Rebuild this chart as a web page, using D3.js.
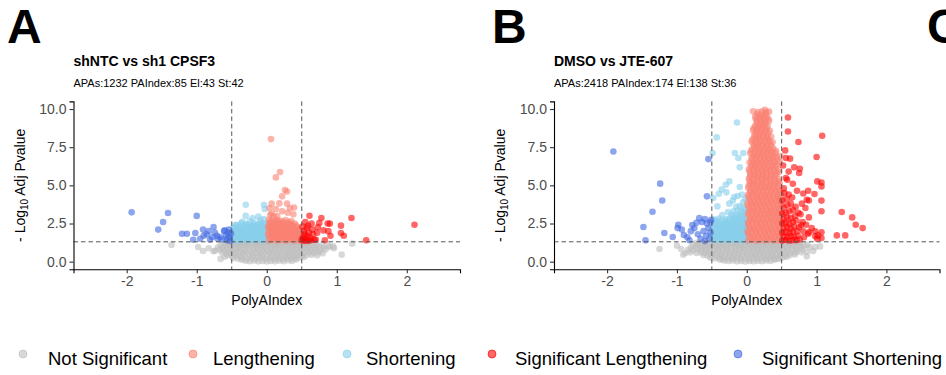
<!DOCTYPE html>
<html><head><meta charset="utf-8">
<script src="https://cdn.jsdelivr.net/npm/d3@7"></script>
<style>body{margin:0;background:#fff}svg{display:block;font-family:"Liberation Sans",Arial,sans-serif}</style>
</head><body><svg id="c" width="946" height="375"></svg>
<script>
// ---------- DATA ----------
const categories = ["Not Significant","Lengthening","Shortening","Significant Lengthening","Significant Shortening"];
const catColors = ["#BEBEBE","#FA8072","#87CEEB","#FF0000","#4169E1"];
const xTicks = [-2,-1,0,1,2];
const yTicks = [0,2.5,5,7.5,10];
const yTickLabels = ["0.0","2.5","5.0","7.5","10.0"];
const panelLabels = ["A","B","C"];
const titles = ["shNTC vs sh1 CPSF3","DMSO vs JTE-607"];
const subtitles = ["APAs:1232 PAIndex:85 El:43 St:42","APAs:2418 PAIndex:174 El:138 St:36"];
const pThreshold = 1.301, piThreshold = 0.5;

// Panel A points [PolyAIndex, -log10 adj p]
const A_notSig = [[-0.36,0.12],[-0.3,0.06],[-0.24,0.03],[-0.18,0.08],[-0.12,0.02],[-0.06,0.05],[0.0,0.01],[0.06,0.04],[0.12,0.02],[0.18,0.07],[0.24,0.03],[0.3,0.09],[0.36,0.05],[0.42,0.14],
[-0.48,0.25],[-0.42,0.2],[-0.36,0.24],[-0.29,0.18],[-0.22,0.22],[-0.15,0.2],[-0.08,0.24],[-0.02,0.19],[0.05,0.22],[0.11,0.18],[0.17,0.23],[0.23,0.2],[0.29,0.25],[0.35,0.2],[0.41,0.23],[0.47,0.27],[0.53,0.3],
[-0.56,0.42],[-0.5,0.38],[-0.44,0.41],[-0.38,0.37],[-0.32,0.43],[-0.25,0.39],[-0.19,0.41],[-0.12,0.37],[-0.06,0.42],[0.01,0.39],[0.07,0.41],[0.14,0.37],[0.2,0.42],[0.26,0.38],[0.32,0.41],[0.38,0.39],[0.44,0.43],[0.5,0.38],[0.57,0.42],[0.64,0.45],
[-0.64,0.6],[-0.58,0.55],[-0.52,0.6],[-0.46,0.56],[-0.4,0.6],[-0.34,0.57],[-0.28,0.6],[-0.21,0.55],[-0.15,0.59],[-0.09,0.57],[-0.03,0.6],[0.04,0.56],[0.1,0.59],[0.16,0.55],[0.22,0.6],[0.29,0.57],[0.35,0.6],[0.41,0.56],[0.47,0.59],[0.53,0.57],[0.6,0.61],[0.67,0.56],[0.74,0.6],
[-0.74,0.72],[-0.67,0.78],[-0.61,0.74],[-0.55,0.78],[-0.49,0.75],[-0.43,0.79],[-0.37,0.74],[-0.31,0.77],[-0.24,0.73],[-0.18,0.78],[-0.12,0.75],[-0.05,0.77],[0.01,0.74],[0.07,0.78],[0.13,0.75],[0.19,0.79],[0.26,0.74],[0.32,0.77],[0.38,0.73],[0.44,0.78],[0.5,0.75],[0.57,0.79],[0.63,0.74],[0.7,0.78],[0.77,0.73],[0.84,0.8],
[-0.7,0.92],[-0.63,0.96],[-0.57,0.91],[-0.51,0.95],[-0.45,0.92],[-0.39,0.96],[-0.33,0.93],[-0.27,0.95],[-0.2,0.91],[-0.14,0.96],[-0.08,0.93],[-0.02,0.95],[0.05,0.92],[0.11,0.96],[0.17,0.93],[0.23,0.95],[0.3,0.91],[0.36,0.96],[0.42,0.92],[0.48,0.95],[0.54,0.93],[0.61,0.96],[0.68,0.92],[0.75,0.96],[0.82,0.93],[0.9,0.97],
[-0.66,1.08],[-0.6,1.12],[-0.54,1.09],[-0.48,1.12],[-0.42,1.08],[-0.36,1.11],[-0.3,1.09],[-0.24,1.12],[-0.17,1.08],[-0.11,1.11],[-0.05,1.09],[0.02,1.12],[0.08,1.08],[0.14,1.11],[0.2,1.09],[0.27,1.12],[0.33,1.08],[0.39,1.11],[0.45,1.09],[0.51,1.12],[0.57,1.08],[0.64,1.11],[0.71,1.07],[0.79,1.1],[0.88,1.05],[0.95,1.0],
[-0.58,1.24],[-0.51,1.22],[-0.45,1.26],[-0.39,1.23],[-0.33,1.25],[-0.27,1.22],[-0.2,1.26],[-0.14,1.23],[-0.08,1.25],[-0.01,1.22],[0.05,1.26],[0.11,1.23],[0.17,1.25],[0.24,1.22],[0.3,1.26],[0.36,1.23],[0.42,1.25],[0.48,1.22],[0.55,1.26],[0.62,1.23],[0.69,1.25],
[-1.36,1.1],[-0.98,0.96],[-0.91,0.7],[-0.83,0.88],[-0.76,0.68],[-0.66,0.18],[-0.6,0.32],[1.07,0.46],[1.22,1.18],[0.96,0.88],[0.72,0.42],[0.8,0.55]];
const A_short = [[-0.48,1.4],[-0.42,1.37],[-0.36,1.41],[-0.3,1.38],[-0.24,1.42],[-0.18,1.37],[-0.12,1.4],[-0.06,1.38],[-0.02,1.42],
[-0.46,1.6],[-0.4,1.62],[-0.34,1.58],[-0.28,1.62],[-0.22,1.59],[-0.16,1.63],[-0.1,1.6],[-0.04,1.62],
[-0.49,1.8],[-0.43,1.84],[-0.37,1.8],[-0.31,1.85],[-0.25,1.81],[-0.19,1.84],[-0.13,1.8],[-0.07,1.85],[-0.02,1.82],
[-0.45,2.04],[-0.39,2.07],[-0.33,2.03],[-0.27,2.08],[-0.21,2.04],[-0.15,2.06],[-0.09,2.03],[-0.04,2.08],
[-0.47,2.22],[-0.4,2.3],[-0.34,2.25],[-0.28,2.3],[-0.22,2.26],[-0.16,2.31],[-0.1,2.27],[-0.05,2.3],[-0.01,2.25],
[-0.37,2.5],[-0.3,2.47],[-0.19,2.52],[-0.13,2.48],[-0.07,2.55],[-0.03,2.5],
[-0.24,2.65],[-0.09,2.72],[-0.04,2.8],[-0.3,3.0],[-0.2,2.85],[-0.35,2.62],[-0.3,3.73],[-0.04,3.73],[-0.03,3.45],[-0.12,2.95],[-0.45,2.4]];
const A_shortDense = [[-0.45,1.5],[-0.39,1.52],[-0.33,1.48],[-0.27,1.51],[-0.21,1.49],[-0.15,1.53],[-0.09,1.48],[-0.03,1.51],
[-0.48,1.72],[-0.42,1.7],[-0.36,1.74],[-0.3,1.71],[-0.24,1.73],[-0.18,1.69],[-0.12,1.73],[-0.06,1.7],
[-0.46,1.95],[-0.4,1.93],[-0.34,1.96],[-0.28,1.92],[-0.22,1.95],[-0.16,1.94],[-0.1,1.97],[-0.04,1.92],
[-0.48,2.15],[-0.42,2.17],[-0.36,2.14],[-0.3,2.18],[-0.24,2.15],[-0.18,2.19],[-0.12,2.16],[-0.06,2.18],
[-0.43,2.4],[-0.31,2.38],[-0.25,2.42],[-0.19,2.39],[-0.13,2.41],[-0.08,2.38],[-0.02,2.42]];
const A_length = [[0.03,1.39],[0.09,1.42],[0.15,1.38],[0.21,1.41],[0.27,1.37],[0.33,1.42],[0.39,1.38],[0.45,1.41],[0.49,1.36],
[0.05,1.6],[0.11,1.63],[0.17,1.58],[0.23,1.62],[0.29,1.59],[0.35,1.63],[0.41,1.6],[0.47,1.62],
[0.02,1.82],[0.08,1.85],[0.14,1.8],[0.2,1.84],[0.26,1.81],[0.32,1.85],[0.38,1.8],[0.44,1.84],[0.49,1.8],
[0.04,2.05],[0.1,2.08],[0.16,2.03],[0.22,2.07],[0.28,2.04],[0.34,2.08],[0.4,2.03],[0.46,2.06],
[0.02,2.3],[0.07,2.26],[0.13,2.31],[0.19,2.27],[0.25,2.3],[0.31,2.26],[0.37,2.3],[0.43,2.25],
[0.04,2.52],[0.1,2.48],[0.16,2.53],[0.22,2.49],[0.28,2.52],[0.34,2.47],[0.4,2.5],
[0.03,2.75],[0.08,2.7],[0.14,2.76],[0.2,2.68],[0.27,2.72],[0.35,2.66],
[0.05,3.05],[0.1,2.95],[0.07,3.15],[0.15,3.0],[0.3,3.2],[0.38,3.1],[0.22,3.3],
[0.06,8.03],[0.19,5.87],[0.13,5.52],[0.26,4.7],[0.29,4.6],[0.22,4.28],[0.07,3.8],[0.18,3.82],[0.29,3.8],[0.39,3.55],[0.33,3.5],[0.04,3.5],[0.13,3.45]];
const A_lengthDense = [[0.06,1.5],[0.12,1.52],[0.18,1.48],[0.24,1.51],[0.3,1.49],[0.36,1.53],[0.42,1.48],[0.48,1.51],
[0.03,1.72],[0.09,1.7],[0.15,1.74],[0.21,1.71],[0.27,1.73],[0.33,1.69],[0.39,1.73],[0.45,1.7],
[0.06,1.95],[0.12,1.93],[0.18,1.96],[0.24,1.92],[0.3,1.95],[0.36,1.94],[0.42,1.97],[0.48,1.92],
[0.03,2.17],[0.09,2.15],[0.15,2.19],[0.21,2.16],[0.27,2.18],[0.33,2.14],[0.39,2.18],[0.45,2.15],
[0.06,2.4],[0.12,2.38],[0.18,2.41],[0.24,2.37],[0.3,2.4],[0.36,2.39],[0.42,2.36],
[0.05,2.62],[0.11,2.6],[0.17,2.63],[0.24,2.6],[0.31,2.58]];
const A_sigLength = [[0.61,3.01],[0.78,2.86],[1.21,2.86],[2.11,2.42],[0.9,2.49],[1.06,2.36],[0.75,2.53],[0.64,2.49],[0.81,2.05],[0.91,1.7],[1.06,1.88],[1.1,1.7],[1.42,1.4],[0.7,1.44],[0.83,1.4],
[0.52,1.38],[0.55,1.5],[0.58,1.7],[0.53,2.0],[0.6,1.9],[0.57,2.2],[0.52,1.6],[0.62,1.55],[0.66,1.8],[0.68,1.45],[0.56,1.35],[0.65,2.1],[0.72,1.9],[0.6,1.38],[0.54,1.8],[0.51,2.3],[0.55,2.6],[0.59,2.35],[0.63,1.4],[0.5,1.45],[0.87,2.5],[0.88,2.0],[0.73,2.25]];
const A_sigShort = [[-1.93,3.23],[-1.41,3.19],[-1.48,2.6],[-1.55,2.1],[-1.0,3.0],[-1.21,1.83],[-1.14,1.83],[-1.02,1.88],[-1.05,1.44],[-0.91,2.1],[-0.83,2.0],[-0.76,2.27],[-0.86,1.8],[-0.71,1.7],[-0.66,1.6],[-0.55,1.9],[-0.53,1.6],[-0.61,2.0],[-0.95,1.5],[-0.81,1.45],[-0.64,1.45],[-0.57,1.4],[-0.74,1.9],[-0.58,1.75],[-0.6,2.05],[-0.52,1.35],[-0.7,1.5],[-0.9,1.7],[-0.78,1.6],[-0.54,2.1],[-0.51,1.85],[-0.56,1.55]];

// Panel B points
const B_notSig = [[-0.38,0.12],[-0.32,0.07],[-0.26,0.04],[-0.2,0.08],[-0.14,0.02],[-0.08,0.05],[-0.02,0.01],[0.04,0.04],[0.1,0.02],[0.16,0.06],[0.22,0.03],[0.28,0.08],[0.34,0.05],[0.4,0.12],[0.46,0.18],
[-0.52,0.26],[-0.46,0.21],[-0.4,0.24],[-0.34,0.19],[-0.27,0.22],[-0.21,0.2],[-0.15,0.24],[-0.09,0.19],[-0.03,0.22],[0.03,0.18],[0.09,0.23],[0.15,0.2],[0.21,0.24],[0.27,0.19],[0.33,0.23],[0.39,0.2],[0.45,0.24],[0.51,0.28],[0.57,0.32],
[-0.62,0.44],[-0.56,0.39],[-0.5,0.42],[-0.44,0.37],[-0.38,0.42],[-0.32,0.38],[-0.25,0.41],[-0.19,0.37],[-0.13,0.42],[-0.07,0.39],[0.0,0.41],[0.06,0.37],[0.12,0.42],[0.18,0.38],[0.24,0.41],[0.3,0.37],[0.36,0.42],[0.42,0.39],[0.48,0.41],[0.55,0.38],[0.62,0.43],[0.69,0.47],
[-0.81,0.6],[-0.72,0.57],[-0.66,0.6],[-0.6,0.56],[-0.54,0.6],[-0.48,0.56],[-0.42,0.59],[-0.36,0.55],[-0.3,0.6],[-0.24,0.57],[-0.18,0.59],[-0.11,0.55],[-0.05,0.6],[0.01,0.56],[0.07,0.59],[0.13,0.55],[0.19,0.6],[0.25,0.57],[0.31,0.59],[0.37,0.55],[0.43,0.6],[0.49,0.57],[0.55,0.6],[0.62,0.56],[0.7,0.6],[0.78,0.62],[0.86,0.63],
[-0.88,0.57],[-0.84,0.78],[-0.77,0.74],[-0.7,0.79],[-0.64,0.74],[-0.58,0.77],[-0.52,0.73],[-0.46,0.78],[-0.4,0.75],[-0.34,0.79],[-0.28,0.74],[-0.21,0.77],[-0.15,0.73],[-0.09,0.78],[-0.03,0.75],[0.04,0.79],[0.1,0.74],[0.16,0.77],[0.22,0.73],[0.28,0.78],[0.34,0.75],[0.4,0.79],[0.46,0.74],[0.52,0.77],[0.58,0.73],[0.65,0.78],[0.72,0.74],[0.8,0.79],
[-0.94,0.83],[-0.8,0.93],[-0.73,0.96],[-0.66,0.91],[-0.6,0.95],[-0.54,0.92],[-0.48,0.96],[-0.42,0.93],[-0.36,0.95],[-0.29,0.91],[-0.23,0.96],[-0.17,0.93],[-0.11,0.95],[-0.05,0.91],[0.02,0.96],[0.08,0.93],[0.14,0.95],[0.2,0.91],[0.26,0.96],[0.32,0.93],[0.38,0.95],[0.44,0.92],[0.5,0.96],[0.57,0.93],[0.64,0.96],[0.71,0.92],[0.78,0.97],[0.9,0.94],[0.98,0.95],
[-0.77,1.09],[-0.7,1.12],[-0.63,1.08],[-0.57,1.11],[-0.51,1.09],[-0.45,1.12],[-0.39,1.08],[-0.33,1.11],[-0.27,1.09],[-0.2,1.12],[-0.14,1.08],[-0.08,1.11],[-0.02,1.09],[0.05,1.12],[0.11,1.08],[0.17,1.11],[0.23,1.09],[0.29,1.12],[0.35,1.08],[0.41,1.11],[0.47,1.09],[0.53,1.12],[0.6,1.08],[0.67,1.11],[0.74,1.07],[0.82,1.06],[0.87,1.1],
[-0.72,1.24],[-0.65,1.22],[-0.58,1.26],[-0.52,1.23],[-0.46,1.25],[-0.4,1.22],[-0.33,1.26],[-0.27,1.23],[-0.21,1.25],[-0.15,1.22],[-0.09,1.26],[-0.03,1.23],[0.03,1.25],[0.1,1.22],[0.16,1.26],[0.22,1.23],[0.28,1.25],[0.34,1.22],[0.41,1.26],[0.47,1.23],[0.53,1.25],[0.6,1.22],[0.68,1.26],[0.76,1.23],
[-1.25,0.83],[-1.0,1.05],[-0.91,0.45],[1.05,1.0],[0.95,0.7],[0.86,0.35]];
const B_short = [[-0.49,1.39],[-0.43,1.42],[-0.37,1.38],[-0.31,1.41],[-0.25,1.37],[-0.19,1.42],[-0.13,1.38],[-0.07,1.41],[-0.02,1.38],
[-0.46,1.6],[-0.4,1.64],[-0.34,1.6],[-0.28,1.63],[-0.22,1.59],[-0.16,1.64],[-0.1,1.6],[-0.04,1.63],
[-0.49,1.84],[-0.43,1.87],[-0.37,1.83],[-0.31,1.86],[-0.25,1.82],[-0.19,1.87],[-0.13,1.83],[-0.07,1.86],[-0.02,1.84],
[-0.46,2.07],[-0.4,2.1],[-0.34,2.06],[-0.28,2.1],[-0.22,2.05],[-0.16,2.09],[-0.1,2.06],[-0.04,2.1],
[-0.48,2.3],[-0.42,2.27],[-0.36,2.32],[-0.3,2.28],[-0.24,2.33],[-0.18,2.29],[-0.12,2.32],[-0.06,2.28],[-0.02,2.33],
[-0.45,2.55],[-0.39,2.52],[-0.33,2.57],[-0.27,2.53],[-0.21,2.58],[-0.15,2.54],[-0.09,2.57],[-0.04,2.53],
[-0.47,2.78],[-0.4,2.82],[-0.3,2.8],[-0.24,2.84],[-0.18,2.79],[-0.12,2.83],[-0.06,2.8],[-0.02,2.85],
[-0.35,3.05],[-0.22,3.08],[-0.15,3.02],[-0.1,3.1],[-0.05,3.05],
[-0.19,3.3],[-0.13,3.35],[-0.08,3.28],[-0.03,3.4],[-0.27,3.25],
[-0.15,3.6],[-0.1,3.65],[-0.05,3.55],[-0.42,3.62],[-0.25,3.8],
[-0.2,4.0],[-0.07,4.4],[-0.13,4.3],[-0.48,4.17],[-0.4,4.45],[-0.18,4.24],[-0.29,4.54],[-0.36,4.72],[-0.3,5.04],[-0.25,5.26],[-0.1,4.89],[-0.1,6.18],[-0.12,6.79],[-0.17,7.12],[-0.05,7.12],[-0.49,7.12],[-0.43,8.14],[-0.14,9.12],[-0.05,3.9],[-0.02,4.1]];
const B_shortDense = [[-0.46,1.5],[-0.4,1.52],[-0.34,1.48],[-0.28,1.51],[-0.22,1.49],[-0.16,1.53],[-0.1,1.48],[-0.04,1.51],
[-0.49,1.73],[-0.43,1.71],[-0.37,1.75],[-0.31,1.72],[-0.25,1.74],[-0.19,1.7],[-0.13,1.74],[-0.07,1.71],[-0.02,1.74],
[-0.46,1.96],[-0.4,1.94],[-0.34,1.97],[-0.28,1.93],[-0.22,1.96],[-0.16,1.95],[-0.1,1.98],[-0.04,1.93],
[-0.49,2.19],[-0.43,2.21],[-0.37,2.18],[-0.31,2.22],[-0.25,2.19],[-0.19,2.23],[-0.13,2.2],[-0.07,2.22],[-0.02,2.19],
[-0.46,2.42],[-0.4,2.44],[-0.34,2.41],[-0.28,2.45],[-0.22,2.42],[-0.16,2.46],[-0.1,2.43],[-0.04,2.45],
[-0.43,2.67],[-0.36,2.69],[-0.3,2.66],[-0.24,2.7],[-0.18,2.67],[-0.12,2.71],[-0.06,2.68],[-0.02,2.7],
[-0.2,2.95],[-0.13,2.93],[-0.07,2.97],[-0.03,3.2]];
const B_length = [[0.02,1.38],[0.08,1.43],[0.14,1.37],[0.2,1.42],[0.26,1.39],[0.32,1.44],[0.38,1.37],[0.44,1.41],[0.49,1.38],
[0.04,1.7],[0.1,1.66],[0.16,1.72],[0.22,1.68],[0.28,1.73],[0.34,1.67],[0.4,1.71],[0.46,1.69],
[0.01,2.0],[0.07,2.03],[0.13,1.97],[0.19,2.02],[0.25,1.98],[0.31,2.04],[0.37,1.99],[0.43,2.02],[0.49,1.97],
[0.04,2.3],[0.1,2.27],[0.16,2.33],[0.22,2.29],[0.28,2.32],[0.34,2.26],[0.4,2.31],[0.46,2.28],
[0.02,2.6],[0.08,2.63],[0.14,2.58],[0.2,2.62],[0.26,2.57],[0.32,2.61],[0.38,2.64],[0.44,2.59],[0.49,2.62],
[0.05,2.9],[0.11,2.87],[0.17,2.92],[0.23,2.88],[0.29,2.93],[0.35,2.89],[0.41,2.91],[0.47,2.87],
[0.02,3.2],[0.08,3.23],[0.14,3.18],[0.2,3.22],[0.26,3.17],[0.32,3.21],[0.38,3.24],[0.44,3.19],[0.49,3.22],
[0.04,3.5],[0.1,3.47],[0.16,3.52],[0.22,3.48],[0.28,3.53],[0.34,3.49],[0.4,3.51],[0.46,3.47],
[0.01,3.8],[0.07,3.83],[0.13,3.78],[0.19,3.82],[0.25,3.77],[0.31,3.81],[0.37,3.84],[0.43,3.79],[0.49,3.82],
[0.04,4.1],[0.1,4.07],[0.16,4.12],[0.22,4.08],[0.28,4.13],[0.34,4.09],[0.4,4.11],[0.46,4.07],
[0.02,4.4],[0.08,4.43],[0.14,4.38],[0.2,4.42],[0.26,4.37],[0.32,4.41],[0.38,4.44],[0.44,4.39],[0.49,4.42],
[0.05,4.7],[0.11,4.67],[0.17,4.72],[0.23,4.68],[0.29,4.73],[0.35,4.69],[0.41,4.71],[0.47,4.67],
[0.03,5.0],[0.09,5.03],[0.15,4.98],[0.21,5.02],[0.27,4.97],[0.33,5.01],[0.39,5.04],[0.45,4.99],
[0.04,5.3],[0.1,5.27],[0.16,5.32],[0.22,5.28],[0.28,5.33],[0.34,5.29],[0.4,5.31],[0.46,5.27],
[0.05,5.6],[0.11,5.63],[0.17,5.58],[0.23,5.62],[0.29,5.57],[0.35,5.61],[0.41,5.64],
[0.04,5.9],[0.1,5.87],[0.16,5.92],[0.22,5.88],[0.28,5.93],[0.34,5.89],[0.4,5.91],[0.46,5.87],
[0.06,6.2],[0.12,6.23],[0.18,6.18],[0.24,6.22],[0.3,6.17],[0.36,6.21],[0.42,6.24],
[0.04,6.5],[0.1,6.47],[0.16,6.52],[0.22,6.48],[0.28,6.53],[0.34,6.49],[0.4,6.51],[0.47,6.55],
[0.07,6.8],[0.13,6.83],[0.19,6.78],[0.25,6.82],[0.31,6.77],[0.37,6.81],[0.43,6.84],[0.48,6.92],
[0.05,7.1],[0.11,7.07],[0.17,7.12],[0.23,7.08],[0.29,7.13],[0.35,7.09],[0.41,7.11],
[0.08,7.4],[0.14,7.43],[0.2,7.38],[0.26,7.42],[0.32,7.37],[0.38,7.41],
[0.1,7.7],[0.16,7.67],[0.22,7.72],[0.28,7.68],[0.34,7.73],
[0.08,8.0],[0.14,8.03],[0.2,7.98],[0.26,8.02],[0.32,7.97],
[0.11,8.3],[0.17,8.27],[0.23,8.32],[0.29,8.28],
[0.09,8.6],[0.15,8.63],[0.21,8.58],[0.27,8.62],[0.33,8.57],
[0.12,8.9],[0.18,8.87],[0.24,8.92],[0.3,8.88],
[0.14,9.2],[0.2,9.23],[0.26,9.18],[0.32,9.22],
[0.12,9.5],[0.18,9.47],[0.24,9.52],[0.29,9.48],
[0.16,9.8],[0.22,9.85],[0.28,9.78],[0.32,9.83],[0.09,9.85],[0.26,9.95]];
const B_lengthDense = [[0.05,1.55],[0.11,1.52],[0.17,1.57],[0.23,1.53],[0.29,1.56],[0.35,1.51],[0.41,1.56],[0.47,1.53],
[0.02,1.85],[0.08,1.83],[0.14,1.87],[0.2,1.84],[0.26,1.88],[0.32,1.82],[0.38,1.86],[0.44,1.83],[0.49,1.87],
[0.05,2.15],[0.11,2.12],[0.17,2.17],[0.23,2.13],[0.29,2.16],[0.35,2.11],[0.41,2.16],[0.47,2.13],
[0.02,2.45],[0.08,2.43],[0.14,2.47],[0.2,2.44],[0.26,2.48],[0.32,2.42],[0.38,2.46],[0.44,2.43],[0.49,2.47],
[0.05,2.75],[0.11,2.72],[0.17,2.77],[0.23,2.73],[0.29,2.76],[0.35,2.71],[0.41,2.76],[0.47,2.73],
[0.02,3.05],[0.08,3.03],[0.14,3.07],[0.2,3.04],[0.26,3.08],[0.32,3.02],[0.38,3.06],[0.44,3.03],[0.49,3.07],
[0.05,3.35],[0.11,3.32],[0.17,3.37],[0.23,3.33],[0.29,3.36],[0.35,3.31],[0.41,3.36],[0.47,3.33],
[0.02,3.65],[0.08,3.63],[0.14,3.67],[0.2,3.64],[0.26,3.68],[0.32,3.62],[0.38,3.66],[0.44,3.63],[0.49,3.67],
[0.05,3.95],[0.11,3.92],[0.17,3.97],[0.23,3.93],[0.29,3.96],[0.35,3.91],[0.41,3.96],[0.47,3.93],
[0.02,4.25],[0.08,4.23],[0.14,4.27],[0.2,4.24],[0.26,4.28],[0.32,4.22],[0.38,4.26],[0.44,4.23],[0.49,4.27],
[0.05,4.55],[0.11,4.52],[0.17,4.57],[0.23,4.53],[0.29,4.56],[0.35,4.51],[0.41,4.56],[0.47,4.53],
[0.02,4.85],[0.08,4.83],[0.14,4.87],[0.2,4.84],[0.26,4.88],[0.32,4.82],[0.38,4.86],[0.44,4.83],
[0.05,5.15],[0.11,5.12],[0.17,5.17],[0.23,5.13],[0.29,5.16],[0.35,5.11],[0.41,5.16],[0.47,5.13],
[0.03,5.45],[0.09,5.43],[0.15,5.47],[0.21,5.44],[0.27,5.48],[0.33,5.42],[0.39,5.46],[0.45,5.43],
[0.05,5.75],[0.11,5.72],[0.17,5.77],[0.23,5.73],[0.29,5.76],[0.35,5.71],[0.43,5.76],
[0.03,6.05],[0.09,6.03],[0.15,6.07],[0.21,6.04],[0.27,6.08],[0.33,6.02],[0.39,6.06],[0.45,6.03],
[0.07,6.35],[0.13,6.32],[0.19,6.37],[0.25,6.33],[0.31,6.36],[0.37,6.31],[0.43,6.36],
[0.07,6.65],[0.13,6.63],[0.19,6.67],[0.25,6.64],[0.31,6.68],[0.37,6.62],[0.44,6.66],
[0.09,6.95],[0.15,6.93],[0.21,6.97],[0.27,6.94],[0.33,6.98],[0.39,6.92],
[0.06,7.25],[0.12,7.23],[0.18,7.27],[0.24,7.24],[0.3,7.28],[0.36,7.22],[0.42,7.26],
[0.11,7.55],[0.17,7.53],[0.23,7.57],[0.29,7.54],[0.35,7.58],
[0.07,7.85],[0.13,7.83],[0.19,7.87],[0.25,7.84],[0.31,7.88],[0.37,7.82],
[0.11,8.15],[0.17,8.13],[0.23,8.17],[0.29,8.14],[0.35,8.18],
[0.13,8.45],[0.19,8.43],[0.25,8.47],[0.31,8.44],
[0.1,8.75],[0.16,8.73],[0.22,8.77],[0.28,8.74],
[0.15,9.05],[0.21,9.03],[0.27,9.07],
[0.13,9.35],[0.19,9.33],[0.25,9.37],[0.31,9.34],
[0.15,9.65],[0.21,9.63],[0.27,9.67]];
const B_sigLength = [[0.59,9.45],[0.59,8.53],[1.08,8.25],[0.74,7.84],[0.55,7.29],[0.56,6.79],[1.0,6.86],[0.62,6.75],[0.68,6.18],[0.76,6.09],[0.75,5.81],[0.56,5.48],[1.01,5.26],[1.07,5.19],[1.07,4.93],[0.58,5.37],[0.72,4.65],[0.88,4.65],[0.97,4.43],[1.07,4.0],[0.86,4.06],[0.79,3.8],[0.84,3.52],[1.07,3.3],[1.36,3.25],[1.51,2.9],[1.56,2.42],[1.66,2.2],[1.29,1.72],[1.41,1.72],[1.01,1.5],[1.07,1.92],[0.98,1.99],[0.89,1.92],[1.02,1.72],[0.81,4.47],[0.89,4.01],[0.89,2.9],[0.93,2.2],[0.85,2.42],[0.81,1.99],[0.88,1.83],[0.98,1.66],[1.07,1.55],[0.8,2.6],[0.77,3.1],[0.7,3.6],[0.65,4.2],[0.53,4.8],[0.6,5.9],[0.52,6.3],[0.66,5.1],
[0.51,1.38],[0.56,1.42],[0.61,1.37],[0.66,1.41],[0.71,1.4],[0.76,1.45],
[0.53,1.65],[0.58,1.6],[0.63,1.68],[0.68,1.62],[0.73,1.7],
[0.51,1.9],[0.56,1.95],[0.61,1.88],[0.66,1.96],[0.72,2.0],
[0.53,2.2],[0.58,2.25],[0.63,2.18],[0.68,2.3],[0.75,2.25],
[0.51,2.5],[0.56,2.55],[0.61,2.48],[0.66,2.6],[0.71,2.7],
[0.53,2.8],[0.58,2.9],[0.63,2.85],[0.69,3.0],
[0.51,3.15],[0.56,3.2],[0.61,3.3],[0.66,3.4],
[0.53,3.55],[0.58,3.7],[0.63,3.8],[0.51,4.0],[0.57,4.1],[0.6,4.4],[0.54,4.5],[0.74,3.2],[0.78,2.4],[0.82,1.6]];
const B_sigShort = [[-1.91,7.22],[-1.24,5.11],[-1.21,4.01],[-1.35,3.27],[-1.48,2.27],[-1.45,1.4],[-1.18,1.88],[-1.06,1.62],[-0.98,2.42],[-0.99,2.2],[-0.93,2.1],[-0.9,1.75],[-0.85,1.6],[-0.8,2.0],[-0.78,2.4],[-0.72,2.55],[-0.68,2.85],[-0.64,2.6],[-0.6,2.8],[-0.57,2.5],[-0.55,2.2],[-0.62,2.0],[-0.7,1.8],[-0.66,1.5],[-0.58,1.7],[-0.52,1.9],[-0.75,2.2],[-0.82,1.4],[-0.6,1.35],[-0.53,1.5],[-0.55,6.72],[-0.57,4.28],[-0.52,2.6],[-0.51,2.75]];

// ---------- DRAW ----------
const svg = d3.select("#c");
svg.append("rect").attr("width",946).attr("height",375).attr("fill","#fff");

const panels = [
  {x0:73.5, x1:460, series:[A_notSig, A_length.concat(A_lengthDense), A_short.concat(A_shortDense), A_sigLength, A_sigShort], labelX:7, ti:0},
  {x0:554, x1:939.5, series:[B_notSig, B_length.concat(B_lengthDense), B_short.concat(B_shortDense), B_sigLength, B_sigShort], labelX:492, ti:1}
];
const yTop = 101.4, yBot = 269.3;
const drawOrder = [0,2,1,4,3];

panels.forEach(p => {
  const x = d3.scaleLinear().domain([-2.76,2.76]).range([p.x0,p.x1]);
  const y = d3.scaleLinear().domain([-0.5,10.5]).range([yBot,yTop]);
  const g = svg.append("g");

  drawOrder.forEach(ci => {
    g.append("g").selectAll("circle").data(p.series[ci]).join("circle")
      .attr("cx",d=>x(d[0])).attr("cy",d=>y(d[1])).attr("r",3.3)
      .attr("fill",catColors[ci]).attr("fill-opacity",0.6);
  });

  const dash = "4.5,3";
  [-piThreshold, piThreshold].forEach(v => {
    g.append("line").attr("x1",x(v)).attr("x2",x(v)).attr("y1",yTop).attr("y2",yBot)
      .attr("stroke","#555").attr("stroke-width",1).attr("stroke-dasharray",dash);
  });
  g.append("line").attr("x1",p.x0).attr("x2",p.x1).attr("y1",y(pThreshold)).attr("y2",y(pThreshold))
    .attr("stroke","#555").attr("stroke-width",1).attr("stroke-dasharray",dash);

  const xa = g.append("g").attr("transform",`translate(0,${yBot})`)
    .call(d3.axisBottom(x).tickValues(xTicks).tickSize(4).tickPadding(3).tickFormat(d => d<0 ? "-"+Math.abs(d) : String(d)));
  const ya = g.append("g").attr("transform",`translate(${p.x0},0)`)
    .call(d3.axisLeft(y).tickValues(yTicks).tickSize(4).tickPadding(3).tickFormat((d,i)=>yTickLabels[i]));
  [xa,ya].forEach(a => {
    a.select(".domain").attr("stroke","#000").attr("stroke-width",1.1);
    a.selectAll(".tick line").attr("stroke","#333").attr("stroke-width",1.1);
    a.selectAll(".tick text").attr("fill","#4D4D4D").attr("font-size",14).attr("font-family","Liberation Sans, Arial, sans-serif");
  });

  g.append("text").attr("x",(p.x0+p.x1)/2).attr("y",305).attr("text-anchor","middle")
    .attr("font-size",14).attr("fill","#000").text("PolyAIndex");
  const yt = g.append("text").attr("transform",`translate(${p.x0-49},${(yTop+yBot)/2}) rotate(-90)`)
    .attr("text-anchor","middle").attr("font-size",14).attr("fill","#000");
  yt.append("tspan").text("- Log");
  yt.append("tspan").attr("font-size",10).attr("dy",3).text("10");
  yt.append("tspan").attr("dy",-3).text(" Adj Pvalue");

  svg.append("text").attr("x",p.x0).attr("y",66).attr("font-size",14).attr("font-weight","bold").text(titles[p.ti]);
  svg.append("text").attr("x",p.x0).attr("y",87).attr("font-size",11).text(subtitles[p.ti]);
  svg.append("text").attr("x",p.labelX).attr("y",43).attr("font-size",48).attr("font-weight","bold").text(panelLabels[p.ti]);
});
// third panel label, cut by the right edge as in the reference
svg.append("text").attr("x",927).attr("y",43).attr("font-size",48).attr("font-weight","bold").text(panelLabels[2]);

const legPos = [[23,48],[193,213],[347,366],[492,515],[738,762]];
categories.forEach((c,i) => {
  svg.append("circle").attr("cx",legPos[i][0]).attr("cy",354).attr("r",4)
    .attr("fill",catColors[i]).attr("fill-opacity",0.6).attr("stroke",catColors[i]).attr("stroke-opacity",0.8).attr("stroke-width",0.8);
  svg.append("text").attr("x",legPos[i][1]).attr("y",364.5).attr("font-size",18.5).attr("fill","#000").text(c);
});
</script></body></html>
